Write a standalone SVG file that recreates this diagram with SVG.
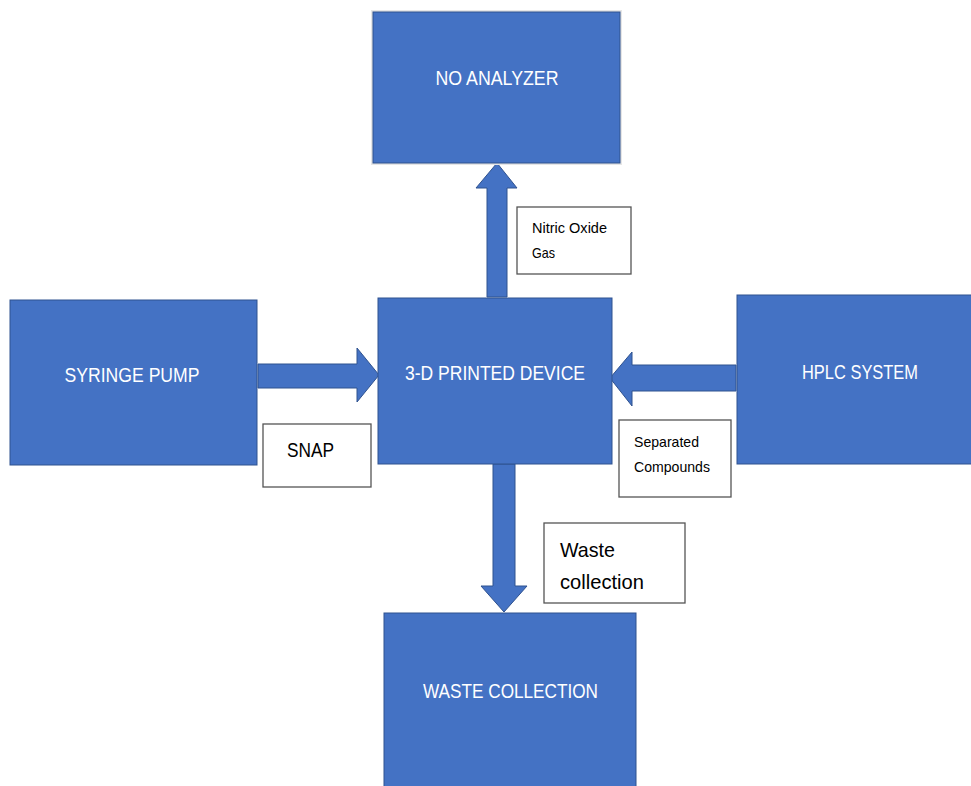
<svg xmlns="http://www.w3.org/2000/svg" width="971" height="786" viewBox="0 0 971 786">
  <style>
    .box { fill: #4472C4; stroke: #2F528F; stroke-width: 1; }
    .title { fill: #FFFFFF; font-family: "Liberation Sans", Arial, sans-serif; font-size: 21px; }
    .tag { fill: #FFFFFF; stroke: #555555; stroke-width: 1.3; }
    .tagtext { fill: #000000; font-family: "Liberation Sans", Arial, sans-serif; }
    .arrow { fill: #4472C4; stroke: #2F528F; stroke-width: 1; }
  </style>
  <rect width="971" height="786" fill="#FFFFFF"/>

  <!-- flow arrows -->
  <g id="connectors">
    <polygon class="arrow" points="487,297 487,188 476,188 497,163 517,188 507,188 507,297"/>
    <polygon class="arrow" points="258,364 357,364 357,348 379,375 357,402 357,388 258,388"/>
    <polygon class="arrow" points="736,365 632,365 632,352 610,378 632,406 632,391 736,391"/>
    <polygon class="arrow" points="493,464 515,464 515,586 527,586 504,612 481,586 493,586"/>
  </g>

  <g id="no-analyzer">
    <rect x="372" y="11" width="249" height="153" fill="none" stroke="#E6E6E6" stroke-width="2"/>
    <rect class="box" x="373" y="12" width="247" height="151"/>
    <text class="title" x="497" y="85" text-anchor="middle" textLength="123" lengthAdjust="spacingAndGlyphs">NO ANALYZER</text>
  </g>

  <g id="printed-device">
    <rect class="box" x="378" y="298" width="234" height="166"/>
    <text class="title" x="495" y="380" text-anchor="middle" textLength="180" lengthAdjust="spacingAndGlyphs">3-D PRINTED DEVICE</text>
  </g>

  <g id="syringe-pump">
    <rect class="box" x="10" y="300" width="247" height="165"/>
    <text class="title" x="132" y="382" text-anchor="middle" textLength="135" lengthAdjust="spacingAndGlyphs">SYRINGE PUMP</text>
  </g>

  <g id="hplc-system">
    <rect class="box" x="737" y="295" width="240" height="169"/>
    <text class="title" x="802" y="379" textLength="116" lengthAdjust="spacingAndGlyphs">HPLC SYSTEM</text>
  </g>

  <g id="waste-collection">
    <rect class="box" x="384" y="613" width="252" height="180"/>
    <text class="title" x="423" y="698" textLength="175" lengthAdjust="spacingAndGlyphs">WASTE COLLECTION</text>
  </g>

  <!-- labels on the flows -->
  <g id="label-nitric-oxide">
    <rect class="tag" x="517" y="207" width="114" height="67"/>
    <text class="tagtext" x="532" y="233" font-size="15" textLength="75" lengthAdjust="spacingAndGlyphs">Nitric Oxide</text>
    <text class="tagtext" x="532" y="258" font-size="15" textLength="23" lengthAdjust="spacingAndGlyphs">Gas</text>
  </g>

  <g id="label-snap">
    <rect class="tag" x="263" y="424" width="108" height="63"/>
    <text class="tagtext" x="287" y="457" font-size="21" textLength="47" lengthAdjust="spacingAndGlyphs">SNAP</text>
  </g>

  <g id="label-separated">
    <rect class="tag" x="619" y="420" width="112" height="77"/>
    <text class="tagtext" x="634" y="447" font-size="15" textLength="65" lengthAdjust="spacingAndGlyphs">Separated</text>
    <text class="tagtext" x="634" y="472" font-size="15" textLength="76" lengthAdjust="spacingAndGlyphs">Compounds</text>
  </g>

  <g id="label-waste">
    <rect class="tag" x="544" y="523" width="141" height="80"/>
    <text class="tagtext" x="560" y="557" font-size="21" textLength="55" lengthAdjust="spacingAndGlyphs">Waste</text>
    <text class="tagtext" x="560" y="589" font-size="21" textLength="84" lengthAdjust="spacingAndGlyphs">collection</text>
  </g>
</svg>
